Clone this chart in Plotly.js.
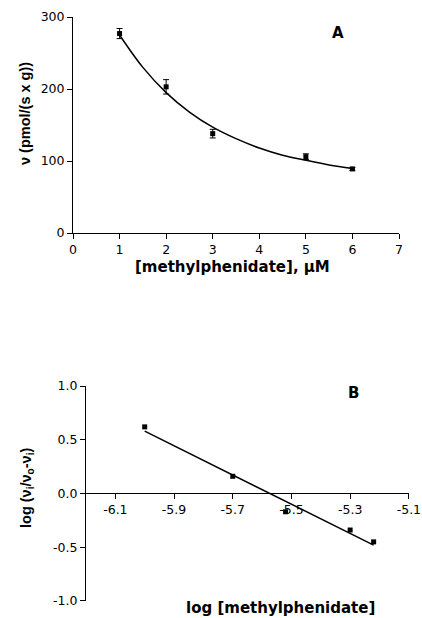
<!DOCTYPE html>
<html>
<head>
<meta charset="utf-8">
<script src="https://cdn.plot.ly/plotly-3.0.1.min.js"></script>
<style>html,body{margin:0;padding:0;background:#fff}#chart{width:422px;height:618px}</style>
</head>
<body>
<div id="chart"></div>
<script>
// Panel A: velocity vs concentration
const concA = [1, 2, 3, 5, 6];
const rateA = [277, 203, 138, 106, 89];
const errA = [7, 10, 6, 4, 2];
// fitted curve
const curveX = [1, 1.5, 2, 2.5, 3, 3.5, 4, 4.5, 5, 5.5, 6];
const curveY = [275, 230, 195, 168, 147, 131, 118, 108, 101, 94.5, 89.5];
const ticksAx = [0, 1, 2, 3, 4, 5, 6, 7];
const ticksAy = [0, 100, 200, 300];

// Panel B: Hill plot
const logConc = [-6.0, -5.7, -5.52, -5.3, -5.22];
const logRatio = [0.62, 0.16, -0.17, -0.34, -0.45];
const fitX = [-6.0, -5.22];
const fitY = [0.58, -0.48];
const ticksBx = [-6.1, -5.9, -5.7, -5.5, -5.3, -5.1];
const ticksBy = [-1.0, -0.5, 0.0, 0.5, 1.0];

const W = 422, H = 618;
const px = v => v / W;
const py = v => 1 - v / H;
const tf = {family: 'DejaVu Sans, Arial, sans-serif', size: 12.5, color: '#000'};
const bf = {family: 'DejaVu Sans, Arial, sans-serif', size: 15, color: '#000', weight: 'bold'};
const bfy = {family: 'Liberation Sans, Arial, sans-serif', size: 14.5, color: '#000', weight: 'bold'};
const lbl = a => a.map(v => v.toFixed(1));

const traces = [
  {x: curveX, y: curveY, mode: 'lines', line: {color: '#000', width: 1.5, shape: 'spline'}, xaxis: 'x', yaxis: 'y', hoverinfo: 'skip'},
  {x: concA, y: rateA, mode: 'markers', marker: {symbol: 'square', size: 5, color: '#000'},
   error_y: {type: 'data', array: errA, visible: true, color: '#000', thickness: 1, width: 3}, xaxis: 'x', yaxis: 'y'},
  {x: fitX, y: fitY, mode: 'lines', line: {color: '#000', width: 1.5}, xaxis: 'x2', yaxis: 'y2', hoverinfo: 'skip'},
  {x: logConc, y: logRatio, mode: 'markers', marker: {symbol: 'square', size: 5, color: '#000'}, xaxis: 'x2', yaxis: 'y2'}
];

const axBase = {showline: true, linecolor: '#000', linewidth: 1, ticks: 'outside', ticklen: 5, tickwidth: 1, tickcolor: '#000',
  showgrid: false, zeroline: false, tickfont: tf, automargin: false, fixedrange: true};

const ann = (text, x, y, font, angle) => ({text, x: px(x), y: py(y), xref: 'paper', yref: 'paper', showarrow: false,
  xanchor: 'center', yanchor: 'middle', font, textangle: angle || 0});

const layout = {
  width: W, height: H,
  margin: {l: 0, r: 0, t: 0, b: 0},
  paper_bgcolor: '#fff', plot_bgcolor: 'rgba(0,0,0,0)',
  showlegend: false,
  xaxis: Object.assign({}, axBase, {domain: [px(73), px(399)], range: [0, 7], tickmode: 'array', tickvals: ticksAx, anchor: 'y'}),
  yaxis: Object.assign({}, axBase, {domain: [py(233), py(17)], range: [0, 300], tickmode: 'array', tickvals: ticksAy, anchor: 'x'}),
  xaxis2: Object.assign({}, axBase, {domain: [px(86), px(409)], range: [-6.2, -5.0995], tickmode: 'array', tickvals: ticksBx,
    ticktext: lbl(ticksBx), anchor: 'free', position: py(493.3)}),
  yaxis2: Object.assign({}, axBase, {domain: [py(601), py(386)], range: [-1.0005, 1.0005], tickmode: 'array', tickvals: ticksBy,
    ticktext: lbl(ticksBy), anchor: 'x2'}),
  annotations: [
    ann('A', 338, 33, bf),
    ann('B', 353, 393, bf),
    ann('[methylphenidate], μM', 232, 267, bf),
    ann('ν (pmol/(s x g))', 25, 114, bfy, -90),
    ann('log (ν<sub>i</sub>/ν<sub>o</sub>-ν<sub>i</sub>)', 27, 487, bfy, -90),
    ann('log [methylphenidate]', 280, 608, bf)
  ]
};

Plotly.newPlot('chart', traces, layout, {staticPlot: true, displayModeBar: false});
</script>
</body>
</html>
